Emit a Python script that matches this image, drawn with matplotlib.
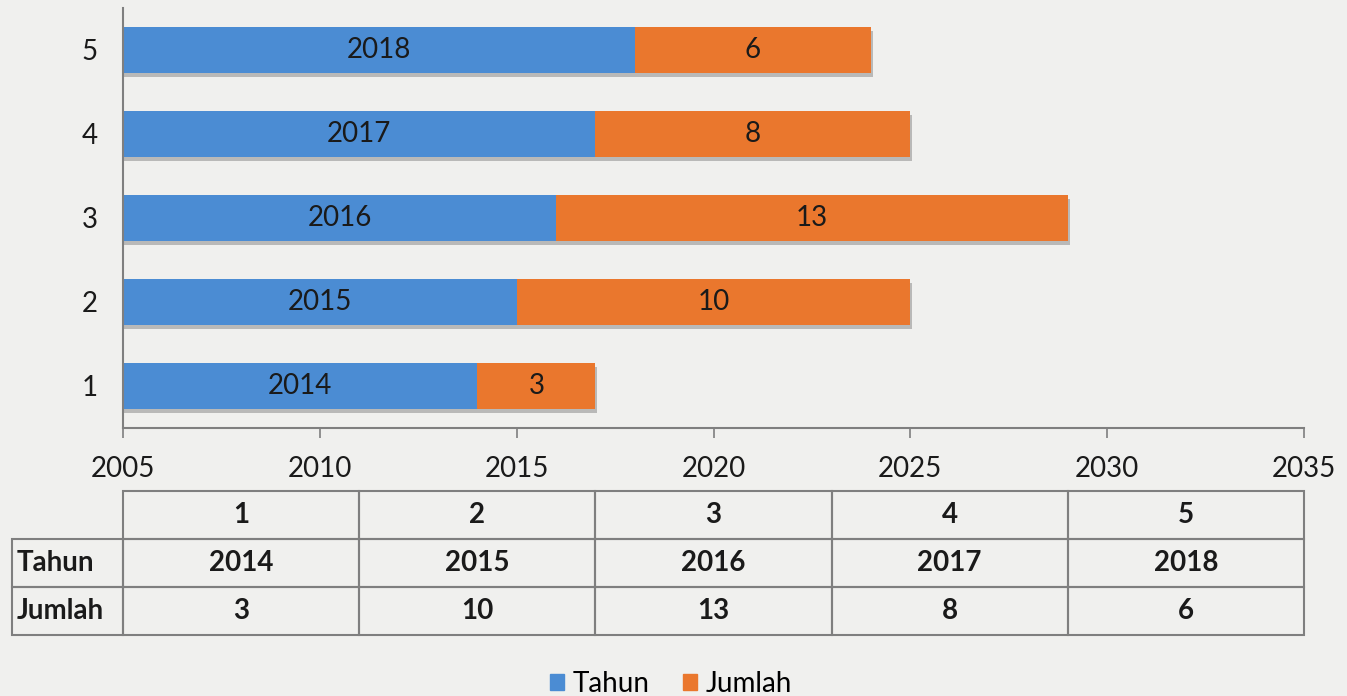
import matplotlib
matplotlib.use('Agg')
import matplotlib.pyplot as plt
import matplotlib.patheffects as pe
from matplotlib.patches import Patch
from matplotlib.table import Table

plt.rcParams['font.family'] = ['Lato', 'DejaVu Sans']

kategori = [1, 2, 3, 4, 5]
tahun = [2014, 2015, 2016, 2017, 2018]
jumlah = [3, 10, 13, 8, 6]
baris_tabel = ['Tahun', 'Jumlah']

biru = '#4b8cd3'
oranye = '#ea772d'
bg = '#f0f0ee'
abu = '#7f7f7f'
teks = '#1a1a1a'
fs = 20

fig = plt.figure(figsize=(13.47, 6.96), dpi=100, facecolor=bg)
ax = fig.add_axes([123 / 1347, 1 - 428 / 696, (1304 - 123) / 1347, 420 / 696])
ax.set_facecolor(bg)

shadow = [pe.SimplePatchShadow(offset=(1.5, -3), shadow_rgbFace='#555555', alpha=0.35), pe.Normal()]
b1 = ax.barh(kategori, tahun, height=0.55, color=biru, path_effects=shadow, zorder=2)
b2 = ax.barh(kategori, jumlah, left=tahun, height=0.55, color=oranye, path_effects=shadow, zorder=2)

# angka di tengah tiap segmen
for y, t, j in zip(kategori, tahun, jumlah):
    ax.text((2005 + t) / 2, y, str(t), ha='center', va='center', fontsize=fs, color=teks, zorder=3)
    ax.text(t + j / 2, y, str(j), ha='center', va='center', fontsize=fs, color=teks, zorder=3)

ax.set_xlim(2005, 2035)
ax.set_ylim(0.5, 5.5)
ax.set_xticks(range(2005, 2036, 5))
ax.set_yticks(kategori)
ax.tick_params(axis='x', length=7, width=1.2, color=abu, labelsize=fs, pad=13, labelcolor=teks)
ax.tick_params(axis='y', length=0, labelsize=fs, pad=18, labelcolor=teks)
for s in ['top', 'right']:
    ax.spines[s].set_visible(False)
for s in ['left', 'bottom']:
    ax.spines[s].set_color(abu)
    ax.spines[s].set_linewidth(1.5)

# tabel data di bawah sumbu: kolom label + satu kolom per kategori
lebar_label = 111 / 1181
lebar_kol = 1 / len(kategori)
tbl = Table(ax, bbox=[-lebar_label, -0.493, 1 + lebar_label, 0.343])
isi = [[''] + [str(k) for k in kategori],
       [baris_tabel[0]] + [str(t) for t in tahun],
       [baris_tabel[1]] + [str(j) for j in jumlah]]
for r, baris in enumerate(isi):
    for c, val in enumerate(baris):
        w = lebar_label if c == 0 else lebar_kol
        cell = tbl.add_cell(r, c, w, 1 / 3, text=val, loc='left' if c == 0 else 'center',
                            edgecolor=abu, facecolor='none')
        cell.set_linewidth(1.5)
        cell.get_text().set_fontsize(fs)
        cell.get_text().set_fontweight('bold')
        cell.get_text().set_color(teks)
        if c == 0:
            cell.PAD = 0.04
        if r == 0 and c == 0:
            cell.visible_edges = ''
tbl.auto_set_font_size(False)
ax.add_table(tbl)

fig.legend(handles=[Patch(color=biru, label='Tahun'), Patch(color=oranye, label='Jumlah')],
           loc='center', bbox_to_anchor=(671 / 1347, 1 - 684 / 696), ncol=2, frameon=False,
           fontsize=fs, handlelength=0.5, handleheight=0.5, handletextpad=0.3, columnspacing=1.2)

fig.savefig('out.png', dpi=100, facecolor=bg)
